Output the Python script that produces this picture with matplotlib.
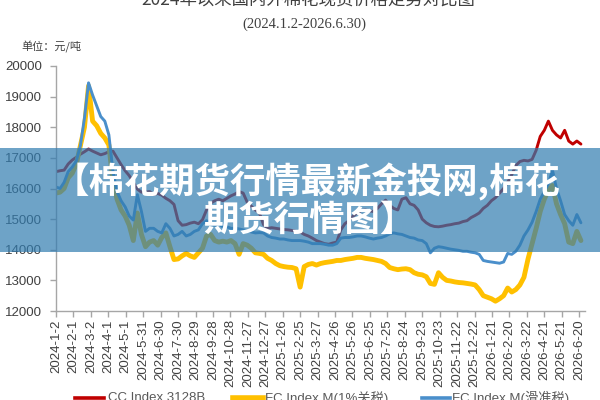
import matplotlib
matplotlib.use("Agg")
import matplotlib.pyplot as plt
import pandas as pd
from matplotlib.patches import Rectangle
from matplotlib.lines import Line2D

plt.rcParams['font.family'] = ['Liberation Sans', 'Noto Sans CJK SC', 'DejaVu Sans']

# ---- data (weekly samples, start 2024-01-02) ----
start_date = "2024-01-02"
cc_3128b = [
    16550, 16580, 16600, 16800, 16930, 17020, 17120, 17200, 17290, 17220,
    17160, 17100, 17140, 17200, 17220, 17000, 16780, 16580, 16420, 16200,
    15980, 15880, 15880, 15900, 15800, 15840, 15780, 15680, 15600, 15480,
    14950, 14800, 14820, 14870, 14900, 14850, 14980, 15300, 15520, 15600,
    15650, 15600, 15680, 15760, 15820, 15900, 15850, 15550, 15420, 15300,
    15200, 14820, 14700, 14720, 14700, 14680, 14660, 14650, 14630, 14600,
    14580, 14500, 14450, 14380, 14300, 14250, 14200, 14180, 14220, 14250,
    14650, 14850, 14950, 15100, 15200, 15280, 15300, 15270, 15250, 15350,
    15500, 15620, 15450, 15350, 15300, 15650, 15700, 15500, 15450, 15300,
    15000, 14880, 14800, 14760, 14750, 14770, 14800, 14820, 14850, 14870,
    14920, 14950, 15050, 15120, 15200, 15350, 15450, 15600, 15700, 15850,
    16000, 16200, 16450, 16750, 16880, 16920, 16900, 16950, 17250, 17700,
    17900, 18200, 17900, 17750, 17650, 17900, 17550, 17450, 17550, 17450,
]
fc_m_1pct = [
    15850, 15880, 16000, 16350, 16500, 16800, 17400, 18000, 19350, 18200,
    18050, 17800, 17650, 17420, 16200, 15650, 15300, 15100, 14800, 14300,
    15200, 14500, 14100, 14250, 14300, 14150, 14400, 14550, 14100, 13680,
    13700, 13800, 13880, 13800, 13750, 13900, 14050, 14450, 14500, 14300,
    14250, 14280, 14250, 14300, 14200, 13850, 14200, 14150, 14050, 13900,
    13880, 13850, 13720, 13650, 13550, 13480, 13450, 13430, 13420, 13380,
    12780, 13450, 13520, 13550, 13500, 13550, 13580, 13600, 13620, 13650,
    13650, 13680, 13700, 13720, 13750, 13750, 13720, 13700, 13680, 13650,
    13620, 13550, 13420, 13380, 13350, 13370, 13380, 13350, 13250, 13200,
    13180, 13120, 12900, 12870, 13250, 13100, 13000, 12980, 12950, 12930,
    12920, 12900, 12880, 12850, 12700, 12500, 12450, 12400, 12320, 12400,
    12500, 12750, 12620, 12700, 12850, 13100, 13700, 14200, 14700, 15250,
    15650, 15950, 16100, 15500, 15150, 14850, 14250, 14200, 14600, 14300,
]
fc_m_sliding = [
    16050, 16000, 16200, 16550, 16700, 16900, 17400, 18300, 19450, 19050,
    18700, 18350, 18200, 17750, 16550, 15900, 15600, 15400, 15100, 14970,
    15800, 15250, 14600, 14700, 14700, 14600, 14550, 14850, 14700, 14450,
    14500, 14600, 14450, 14500, 14600, 14650, 14850, 14950, 14850, 14800,
    14850, 14750, 14750, 14700, 14700, 14680, 14650, 14620, 14580, 14550,
    14560, 14550, 14450, 14400, 14380, 14350, 14350, 14320, 14300, 14300,
    14300, 14280, 14250, 14200, 14200, 14200, 14180, 14150, 14150, 14200,
    14380, 14400, 14400, 14420, 14450, 14450, 14420, 14380, 14350, 14380,
    14400, 14450, 14520, 14550, 14520, 14500, 14450, 14400, 14380, 14320,
    14300, 14200, 13900, 14050, 14100, 14080, 14050, 14020, 14000, 13980,
    13950, 13950, 13920, 13900, 13850, 13650, 13620, 13600, 13580, 13560,
    13600, 13880, 13850, 13950, 14150, 14450, 14650, 14900, 15250, 15650,
    15900, 16150, 16600, 16000, 15600, 15150, 14950, 14800, 15150, 14880,
]
series_names = ["CC Index 3128B", "FC Index M(1%关税)", "FC Index M(滑准税)"]
tick_labels = [
    "2024-1-2", "2024-2-1", "2024-3-2", "2024-4-1", "2024-5-1", "2024-5-31",
    "2024-6-30", "2024-7-30", "2024-8-29", "2024-9-28", "2024-10-28",
    "2024-11-27", "2024-12-27", "2025-1-26", "2025-2-25", "2025-3-27",
    "2025-4-26", "2025-5-26", "2025-6-25", "2025-7-25", "2025-8-24",
    "2025-9-23", "2025-10-23", "2025-11-22", "2025-12-22", "2026-1-21",
    "2026-2-20", "2026-3-22", "2026-4-21", "2026-5-21", "2026-6-20",
]
y_ticks = [12000, 13000, 14000, 15000, 16000, 17000, 18000, 19000, 20000]

dates = pd.date_range(start_date, periods=len(cc_3128b), freq="7D")
colors = ["#C00000", "#FFC000", "#4A8FCB"]
widths = [2.1, 3.5, 2.1]

fig = plt.figure(figsize=(6, 4), dpi=100)
ax = fig.add_axes([0.0933, 0.2225, 0.8817, 0.6125])

for vals, c, w in zip([cc_3128b, fc_m_1pct, fc_m_sliding], colors, widths):
    ax.plot(dates, vals, color=c, lw=w, solid_joinstyle="round", solid_capstyle="round")

ax.set_ylim(12000, 20000)
ax.set_yticks(y_ticks)
ax.set_yticklabels([str(v) for v in y_ticks])
ax.set_xlim(pd.Timestamp("2024-01-02"), pd.Timestamp("2026-06-30"))
ax.set_xticks(pd.to_datetime(tick_labels))
ax.set_xticklabels(tick_labels, rotation=90)

for s in ["top", "right"]:
    ax.spines[s].set_visible(False)
for s in ["left", "bottom"]:
    ax.spines[s].set_color("#A6A6A6")
    ax.spines[s].set_linewidth(1.0)
ax.tick_params(axis="both", colors="#A6A6A6", labelcolor="#404040", labelsize=9.5,
               length=4, width=1.0, direction="out")
ax.tick_params(axis="x", pad=2)
ax.tick_params(axis="y", pad=6)

# titles
fig.text(0.513, 1.0, "2024年以来国内外棉花现货价格走势对比图", ha="center", va="center",
         fontsize=12.5, color="#404040", family=["Noto Sans CJK SC", "DejaVu Sans"])
fig.text(0.507, 0.94, "(2024.1.2-2026.6.30)", ha="center", va="center",
         fontsize=10.5, color="#404040", family=["Liberation Serif", "DejaVu Serif"])
fig.text(0.085, 0.882, "单位：元/吨", ha="center", va="center", fontsize=8,
         color="#404040", family=["Noto Sans CJK SC", "DejaVu Sans"])

# legend (bottom, partly cut off)
leg_y = 0.005
for (x0, x1, tx), name, c, w in zip([(0.125, 0.173, 0.18), (0.388, 0.438, 0.442),
                                       (0.703, 0.75, 0.754)], series_names, colors, widths):
    fig.add_artist(Line2D([x0, x1], [leg_y, leg_y], transform=fig.transFigure,
                          color=c, lw=w + 0.5))
    fig.text(tx, leg_y, name, ha="left", va="center", fontsize=9.5, color="#595959",
             family=["Liberation Sans", "Noto Sans CJK SC"])

# banner overlay
fig.add_artist(Rectangle((0, 0.37), 1, 0.26, transform=fig.transFigure,
                         facecolor="#317CB0", alpha=0.7, edgecolor="none", zorder=10))
fig.text(0.512, 0.545, "【棉花期货行情最新金投网,棉花", ha="center", va="center",
         fontsize=25.5, fontweight="bold", color="white", zorder=11,
         family=["Noto Sans CJK SC", "DejaVu Sans"])
fig.text(0.515, 0.45, "期货行情图】", ha="center", va="center",
         fontsize=25.5, fontweight="bold", color="white", zorder=11,
         family=["Noto Sans CJK SC", "DejaVu Sans"])

fig.savefig("out.png", dpi=100)
